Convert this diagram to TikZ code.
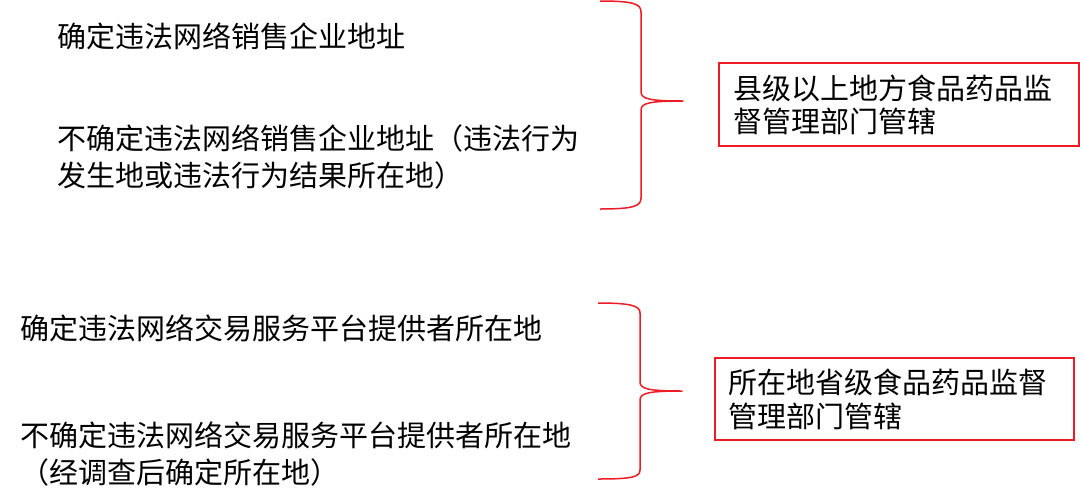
\documentclass[tikz,border=0pt]{standalone}
\usepackage{fontspec}
\newfontfamily\cjk{Noto Sans CJK SC}
\definecolor{bracered}{RGB}{237,28,36}
\begin{document}
\begin{tikzpicture}[x=1pt,y=-1pt,
  lefttext/.style={anchor=west,inner sep=0pt,align=left,font=\cjk\fontsize{29}{37}\selectfont},
  redbox/.style={draw=bracered,line width=1.5pt,inner xsep=13pt,inner ysep=0pt,align=left,anchor=center},
  bracepath/.style={draw=bracered,line width=1.5pt,line join=round}]
\useasboundingbox (0,0) rectangle (1080,501);
\fill[white] (0,0) rectangle (1080,501);

% left texts
\node[lefttext] (ta) at (57,36) {确定违法网络销售企业地址};
\node[lefttext] (tb) at (57,157) {不确定违法网络销售企业地址（违法行为\\发生地或违法行为结果所在地）};
\node[lefttext] (tc) at (20,328) {确定违法网络交易服务平台提供者所在地};
\node[lefttext] (td) at (20,454) {不确定违法网络交易服务平台提供者所在地\\（经调查后确定所在地）};

% boxes
\node[redbox,minimum width=360pt,minimum height=83pt,text width=332pt,
      font=\cjk\fontsize{29}{33}\selectfont] (b1) at (899,104.5)
  {县级以上地方食品药品监\\督管理部门管辖};
\node[redbox,minimum width=359pt,minimum height=82pt,text width=333pt,
      font=\cjk\fontsize{29}{34}\selectfont] (b2) at (894.5,399)
  {所在地省级食品药品监督\\管理部门管辖};

% brace 1
\coordinate (br1top) at (600,1);
\coordinate (br1tip) at (683,101);
\coordinate (br1bot) at (600,209);
\path[bracepath] (br1top) .. controls (634,1) and (641,4) .. (641,12)
  -- (641,92) .. controls (641,99) and (650,101) .. (br1tip)
  .. controls (650,101) and (641,103) .. (641,110)
  -- (641,198) .. controls (641,206) and (634,209) .. (br1bot);

% brace 2
\coordinate (br2top) at (598,303);
\coordinate (br2tip) at (682,391);
\coordinate (br2bot) at (598,479);
\path[bracepath] (br2top) .. controls (632,303) and (640,306) .. (640,313)
  -- (640,382) .. controls (640,389) and (649,391) .. (br2tip)
  .. controls (649,391) and (640,393) .. (640,400)
  -- (640,470) .. controls (640,477) and (632,479) .. (br2bot);
\end{tikzpicture}
\end{document}
